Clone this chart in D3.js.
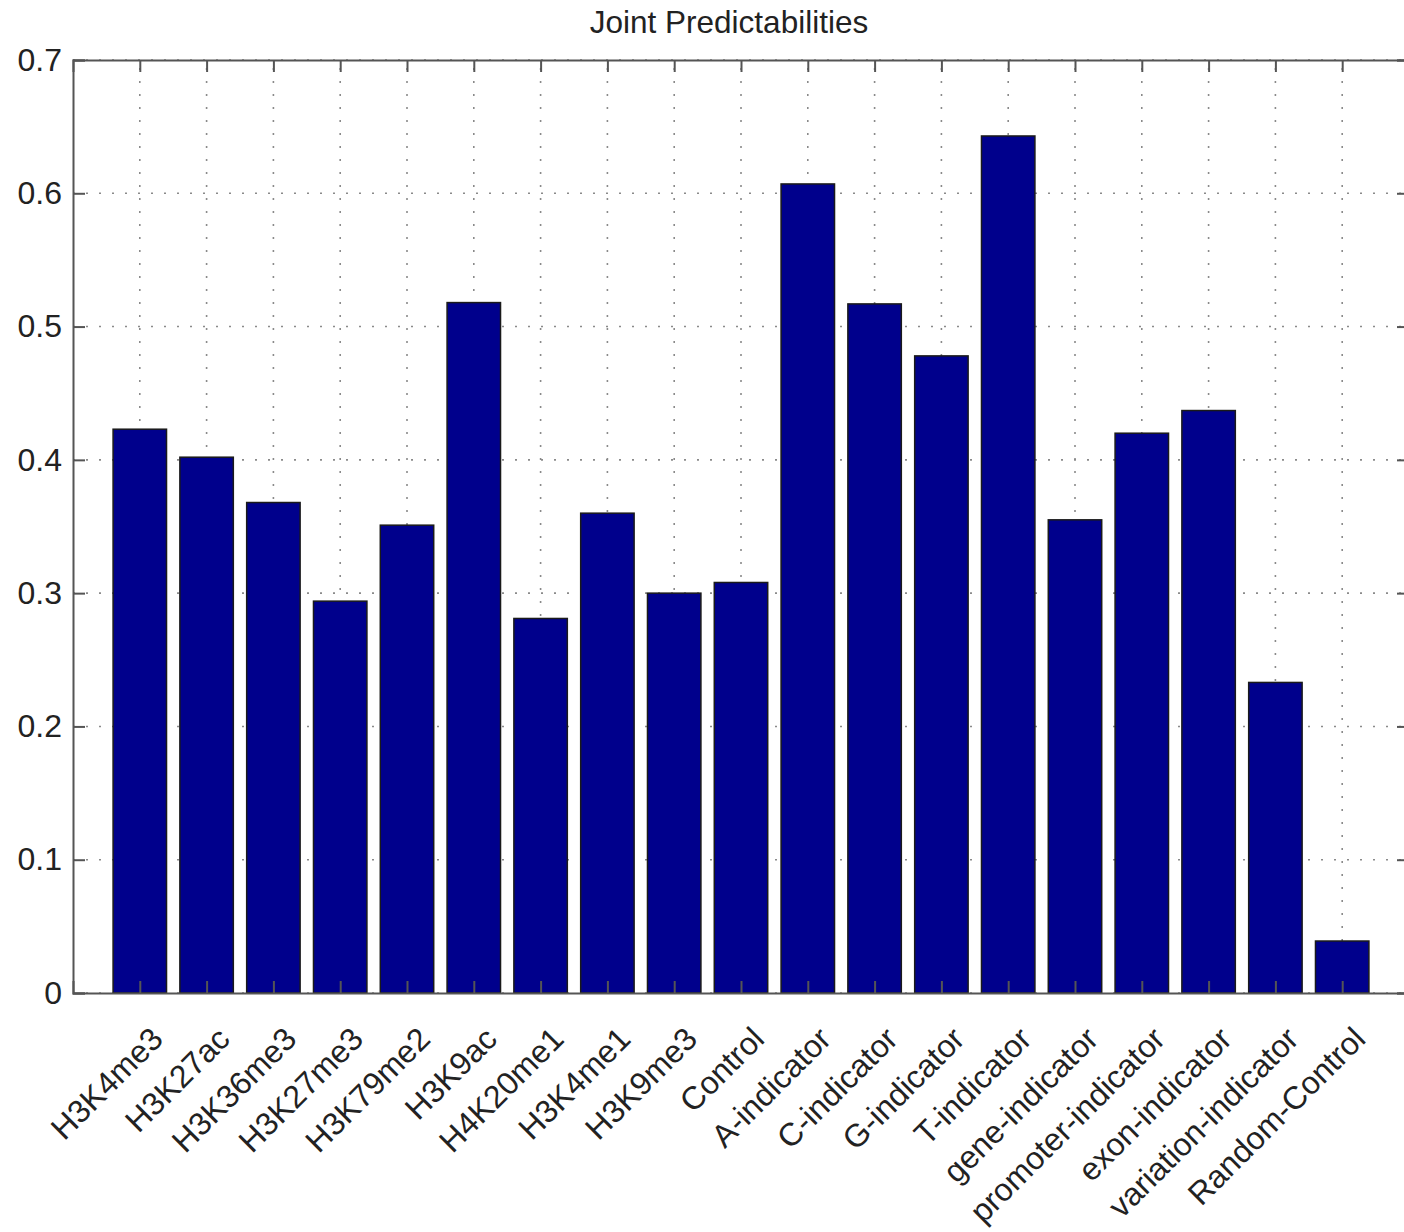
<!DOCTYPE html>
<html>
<head>
<meta charset="utf-8">
<script src="https://cdn.jsdelivr.net/npm/d3@7"></script>
<style>
  body { margin: 0; background: #fff; }
  svg { display: block; font-family: "Liberation Sans", Arial, sans-serif; }
</style>
</head>
<body>
<div class="chart"></div>
<script>
// Data
const categories = ["H3K4me3", "H3K27ac", "H3K36me3", "H3K27me3", "H3K79me2", "H3K9ac",
  "H4K20me1", "H3K4me1", "H3K9me3", "Control", "A-indicator", "C-indicator", "G-indicator",
  "T-indicator", "gene-indicator", "promoter-indicator", "exon-indicator",
  "variation-indicator", "Random-Control"];
const values = [0.423, 0.402, 0.368, 0.294, 0.351, 0.518, 0.281, 0.360, 0.300, 0.308,
  0.607, 0.517, 0.478, 0.643, 0.355, 0.420, 0.437, 0.233, 0.039];
const yTicks = [0, 0.1, 0.2, 0.3, 0.4, 0.5, 0.6, 0.7];
const chartTitle = "Joint Predictabilities";

const width = 1404, height = 1232;
const plot = { left: 73, top: 60, right: 1409, bottom: 993 };

const svg = d3.select(".chart").append("svg")
  .attr("width", width)
  .attr("height", height);

// MATLAB style: x runs 0..n+1 with bars at 1..n
const x = d3.scaleLinear().domain([0, categories.length + 1]).range([plot.left, plot.right]);
const y = d3.scaleLinear().domain([0, 0.7]).range([plot.bottom, plot.top]);
const barW = (x(1) - x(0)) * 0.8;
const idx = d3.range(1, categories.length + 1);

// dotted grid
const grid = svg.append("g")
  .attr("stroke", "#8a8a8a")
  .attr("stroke-width", 1.6)
  .attr("stroke-dasharray", "2,11");
grid.selectAll(".vg").data(idx).enter().append("line")
  .attr("x1", d => x(d)).attr("x2", d => x(d))
  .attr("y1", plot.bottom).attr("y2", plot.top);
grid.selectAll(".hg").data(yTicks).enter().append("line")
  .attr("x1", plot.left).attr("x2", plot.right)
  .attr("y1", d => y(d)).attr("y2", d => y(d));

// bars
svg.selectAll("rect.bar")
  .data(values)
  .enter()
  .append("rect")
  .attr("class", "bar")
  .attr("x", (d, i) => x(i + 1) - barW / 2)
  .attr("y", d => y(d))
  .attr("width", barW)
  .attr("height", d => plot.bottom - y(d))
  .attr("fill", "#00008c")
  .attr("stroke", "#1a1a1a")
  .attr("stroke-width", 1.5);

// axes: box with inward ticks
const axisColor = "#555";
const tickLen = 12;

const yAxis = svg.append("g")
  .attr("transform", `translate(${plot.left},0)`)
  .call(d3.axisLeft(y).tickValues(yTicks).tickSize(-tickLen).tickPadding(11)
    .tickFormat(d => d === 0 ? "0" : d3.format(".1f")(d)));
const yAxisR = svg.append("g")
  .attr("transform", `translate(${plot.right},0)`)
  .call(d3.axisRight(y).tickValues(yTicks).tickSize(-tickLen).tickFormat(""));
const xAxis = svg.append("g")
  .attr("transform", `translate(0,${plot.bottom})`)
  .call(d3.axisBottom(x).tickValues(idx).tickSize(-tickLen).tickFormat(""));
const xAxisT = svg.append("g")
  .attr("transform", `translate(0,${plot.top})`)
  .call(d3.axisTop(x).tickValues(idx).tickSize(-tickLen).tickFormat(""));

[yAxis, yAxisR, xAxis, xAxisT].forEach(g => {
  g.select(".domain").attr("stroke", axisColor).attr("stroke-width", 2);
  g.selectAll(".tick line").attr("stroke", axisColor).attr("stroke-width", 2);
});
yAxis.selectAll(".tick text")
  .attr("font-size", 32)
  .attr("fill", "#222")
  .attr("font-family", "Liberation Sans, Arial, sans-serif");

// rotated category labels
svg.append("g").selectAll("text")
  .data(categories)
  .enter()
  .append("text")
  .attr("transform", (d, i) => `translate(${x(i + 1) + 25},${plot.bottom + 48}) rotate(-45)`)
  .attr("text-anchor", "end")
  .attr("font-size", 32)
  .attr("fill", "#222")
  .text(d => d);

// title
svg.append("text")
  .attr("x", 729)
  .attr("y", 33)
  .attr("text-anchor", "middle")
  .attr("font-size", 31.5)
  .attr("fill", "#222")
  .text(chartTitle);
</script>
</body>
</html>
